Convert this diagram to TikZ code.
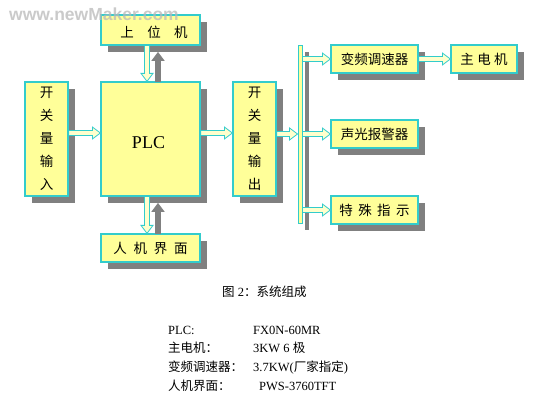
\documentclass[tikz,border=0pt]{standalone}
\usepackage{fontspec}
\setmainfont{Liberation Serif}
\newfontfamily\cjk{Noto Sans CJK SC}
\newfontfamily\wmfont{Liberation Sans}
\usetikzlibrary{calc,shadows}
\definecolor{boxfill}{HTML}{FFFF99}
\definecolor{boxline}{HTML}{33CCCC}
\definecolor{arrowfill}{HTML}{FFFFCC}
\definecolor{shade}{HTML}{808080}
\pgfdeclarelayer{bg}
\pgfsetlayers{bg,main}
\tikzset{
  blk/.style={draw=boxline, fill=boxfill, line width=1.2pt, inner sep=0pt,
    font=\cjk\fontsize{13.5}{23}\selectfont, align=center,
    drop shadow={shadow xshift=7pt, shadow yshift=-7pt, fill=shade, opacity=1}},
  harrow/.style={draw=boxline, fill=arrowfill, line width=0.8pt,
    to path={let \p1=(\tikztostart), \p2=(\tikztotarget) in
      ({\x1},{\y1+2.5pt}) -- ({\x2-8pt},{\y1+2.5pt}) -- ({\x2-8pt},{\y1+6pt})
      -- (\x2,\y1) -- ({\x2-8pt},{\y1-6pt}) -- ({\x2-8pt},{\y1-2.5pt})
      -- ({\x1},{\y1-2.5pt}) -- cycle}},
  hshadow/.style={harrow, fill=shade, draw=shade},
  varrow/.style={draw=boxline, fill=arrowfill, line width=0.8pt,
    to path={let \p1=(\tikztostart), \p2=(\tikztotarget), \n1={sign(\y1-\y2)} in
      ({\x1-2.5pt},{\y1}) -- ({\x1-2.5pt},{\y2+\n1*8pt}) -- ({\x1-6pt},{\y2+\n1*8pt})
      -- (\x1,\y2) -- ({\x1+6pt},{\y2+\n1*8pt}) -- ({\x1+2.5pt},{\y2+\n1*8pt})
      -- ({\x1+2.5pt},{\y1}) -- cycle}},
  grayup/.style={varrow, fill=shade, draw=shade},
  lst/.style={anchor=base west, inner sep=0pt, font=\fontsize{12.5}{14}\selectfont},
}
\begin{document}
\begin{tikzpicture}[x=1pt, y=-1pt]
\fill[white] (0,0) rectangle (550,409);
\useasboundingbox (0,0) rectangle (550,409);

% boxes
\node[blk, minimum width=99pt, minimum height=30pt] (upper) at (150.5,30) {};
\node[font=\cjk\fontsize{13.5}{14}\selectfont, inner sep=0pt, text height=9pt, text depth=0pt] (uppertext) at (154,33) {上\kern1em 位\kern1em 机};
\node[blk, minimum width=43pt, minimum height=114pt] (inbox) at (46.5,139) {开\\关\\量\\输\\入};
\node[blk, minimum width=99pt, minimum height=114pt] (plc) at (150.5,139) {};
\node[font=\fontsize{18}{20}\selectfont, inner sep=0pt] (plctext) at (148.5,143) {PLC};
\node[blk, minimum width=43pt, minimum height=114pt] (outbox) at (254.5,139) {开\\关\\量\\输\\出};
\node[blk, minimum width=4pt, minimum height=178pt, line width=0.9pt] (bus) at (300,134) {};
\node[blk, minimum width=87pt, minimum height=28pt] (vfd) at (374.5,59) {变频调速器};
\node[blk, minimum width=66pt, minimum height=28pt] (motor) at (484,59) {主\kern0.25em 电\kern0.25em 机};
\node[blk, minimum width=87pt, minimum height=28pt] (alarm) at (374.5,134) {声光报警器};
\node[blk, minimum width=87pt, minimum height=28pt] (special) at (374.5,210) {特\kern0.4em 殊\kern0.4em 指\kern0.4em 示};
\node[blk, minimum width=99pt, minimum height=28pt] (hmi) at (150.5,248) {人\kern0.5em 机\kern0.5em 界\kern0.5em 面};

% helper coordinates
\coordinate (ya) at (0,133);
\coordinate (yb) at (0,134);
\coordinate (xa) at (147,0);
\coordinate (xb) at (158,0);
\coordinate (upsh) at ([yshift=-7pt]upper.south);
\coordinate (plcsh) at ([yshift=-7pt]plc.south);

% arrow shadows
\begin{pgfonlayer}{bg}
\begin{scope}[transform canvas={shift={(7pt,-7pt)}}]
\draw[hshadow] (inbox.east |- ya) to (plc.west |- ya);
\draw[hshadow] (plc.east |- ya) to (outbox.west |- ya);
\draw[hshadow] (outbox.east |- yb) to (bus.west |- yb);
\draw[hshadow] (bus.east |- vfd.west) to (vfd.west);
\draw[hshadow] (bus.east |- alarm.west) to (alarm.west);
\draw[hshadow] (bus.east |- special.west) to (special.west);
\draw[hshadow] (vfd.east) to (motor.west);
\end{scope}
\end{pgfonlayer}

% arrows
\draw[harrow] (inbox.east |- ya) to (plc.west |- ya);
\draw[harrow] (plc.east |- ya) to (outbox.west |- ya);
\draw[harrow] (outbox.east |- yb) to (bus.west |- yb);
\draw[harrow] (bus.east |- vfd.west) to (vfd.west);
\draw[harrow] (bus.east |- alarm.west) to (alarm.west);
\draw[harrow] (bus.east |- special.west) to (special.west);
\draw[harrow] (vfd.east) to (motor.west);
\draw[grayup] (plc.north -| xb) to (upsh -| xb);
\draw[varrow] (upper.south -| xa) to (plc.north -| xa);
\draw[grayup] (hmi.north -| xb) to (plcsh -| xb);
\draw[varrow] (plc.south -| xa) to (hmi.north -| xa);

% caption and list
\node[lst] (cap) at (222,296.5) {{\cjk 图} 2{\cjk ：系统组成}};
\node[lst] (l1) at (168,334.5) {PLC:};
\node[lst] (r1) at (253,334.5) {FX0N-60MR};
\node[lst] (l2) at (168,353) {\cjk 主电机：};
\node[lst] (r2) at (253,353) {3KW 6 {\cjk 极}};
\node[lst] (l3) at (168,371.5) {\cjk 变频调速器：};
\node[lst] (r3) at (253,371.5) {3.7KW({\cjk 厂家指定})};
\node[lst] (l4) at (168,390.5) {\cjk 人机界面：};
\node[lst] (r4) at (259,390.5) {PWS-3760TFT};

% watermark
\node[font=\wmfont\bfseries\fontsize{17.5}{19}\selectfont, text=gray!55, opacity=0.75, inner sep=0pt, anchor=base] (wm) at (94,20.5) {www.newMaker.com};
\end{tikzpicture}
\end{document}
